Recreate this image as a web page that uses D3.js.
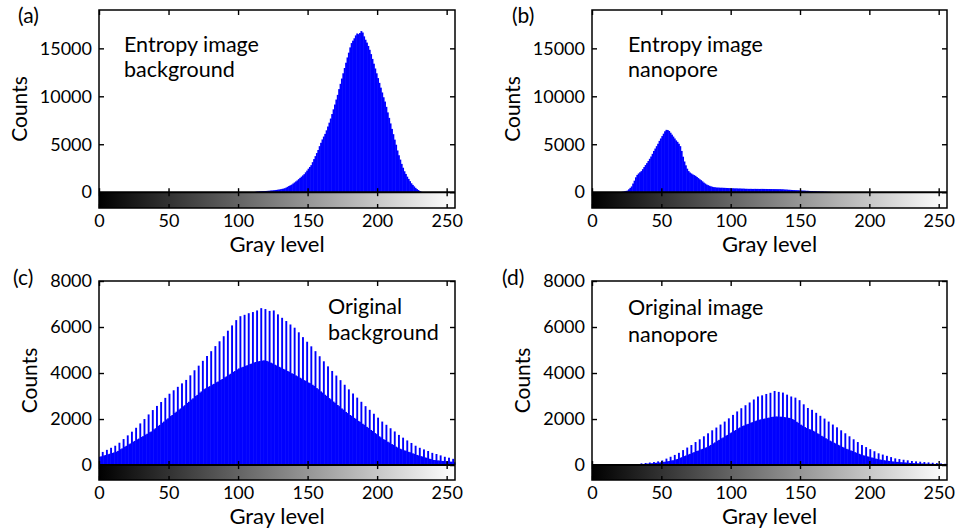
<!DOCTYPE html>
<html><head><meta charset="utf-8">
<script src="https://cdn.jsdelivr.net/npm/d3@7/dist/d3.min.js"></script>
<style>
body{margin:0;background:#fff;}
svg{display:block;font-family:Lato,"Open Sans",sans-serif;}
</style></head><body>
<svg id="chart" width="959" height="529"></svg>
<script>
// ---------- DATA ----------
const grayLevels = d3.range(0, 256);
const xTicks = [0, 50, 100, 150, 200, 250];
const entropyTicks = [0, 5000, 10000, 15000];
const originalTicks = [0, 2000, 4000, 6000, 8000];

// (a) Entropy image background — counts per gray level 0..255
const entropyBackground = [
0,0,0,0,0,0,0,0,0,0,0,0,0,0,0,0,
0,0,0,0,0,0,0,0,0,0,0,0,0,0,0,0,
0,0,0,0,0,0,0,0,0,0,0,0,0,0,0,0,
0,0,0,0,0,0,0,0,0,0,0,0,0,0,0,0,
0,0,0,0,0,0,0,0,0,0,0,0,0,0,0,0,
0,0,0,0,0,0,0,0,0,0,0,0,0,0,0,0,
0,0,0,0,0,0,0,0,0,0,0,0,0,0,0,0,
40,60,75,85,95,105,110,120,130,140,155,170,185,200,215,235,
255,280,310,340,375,410,480,560,640,720,790,900,1010,1120,1230,1360,
1490,1620,1750,1880,2070,2250,2450,2630,2820,3130,3450,3760,4080,4400,4800,5150,
5500,5800,6080,6450,6850,7250,7680,8150,8640,9140,9660,10150,10750,11300,11850,12400,
12950,13500,14050,14550,15100,15550,15800,16050,16350,16550,16480,16600,16800,16650,16250,15900,
15600,15250,14850,14400,13900,13400,12900,12400,11900,11400,10900,10400,9900,9450,8900,8320,
7750,7170,6600,6050,5480,4950,4350,3850,3400,2950,2550,2180,1900,1620,1380,1150,
930,760,600,450,320,220,120,50,0,0,0,0,0,0,0,0,
0,0,0,0,0,0,0,0,0,0,0,0,0,0,0,0
];

// (b) Entropy image nanopore
const entropyNanopore = [
0,0,0,0,0,0,0,0,0,0,0,0,0,0,0,0,
0,0,0,0,0,30,60,90,130,170,300,450,600,900,1200,1550,
1800,1950,2080,2200,2400,2620,2830,3030,3250,3480,3720,4000,4300,4550,4800,5050,
5350,5600,5850,6100,6350,6500,6480,6380,6200,6000,5800,5600,5400,5250,5050,4800,
4300,3700,3200,2800,2450,2200,2050,1950,1850,1780,1700,1580,1470,1350,1250,1130,
1000,900,800,730,670,610,570,530,510,490,480,470,465,460,455,450,
440,435,425,420,410,405,400,395,390,385,380,375,370,365,355,350,
345,345,345,340,340,345,340,340,335,340,340,340,335,335,330,330,
325,325,320,320,315,315,310,310,305,295,285,275,265,255,245,235,
225,215,210,205,200,190,180,170,165,155,145,140,130,120,115,105,
100,95,88,80,74,68,62,56,50,45,40,35,30,22,15,8,
3,0,0,0,0,0,0,0,0,0,0,0,0,0,0,0,
0,0,0,0,0,0,0,0,0,0,0,0,0,0,0,0,
0,0,0,0,0,0,0,0,0,0,0,0,0,0,0,0,
0,0,0,0,0,0,0,0,0,0,0,0,0,0,0,0,
0,0,0,0,0,0,0,0,0,0,0,0,0,0,0,0
];

// (c) Original background
const originalBackground = [
360,380,570,415,435,660,470,490,750,525,545,840,580,615,970,690,
725,1130,795,835,1290,905,940,1450,1015,1050,1620,1120,1150,1810,1220,1255,
2000,1325,1360,2200,1430,1460,2390,1555,1600,2570,1700,1745,2740,1840,1890,2920,
1985,2030,3100,2130,2175,3250,2270,2320,3400,2415,2460,3550,2555,2600,3700,2700,
2750,3900,2850,2900,4120,3000,3050,4320,3150,3200,4530,3300,3335,4740,3400,3430,
4950,3500,3530,5170,3600,3630,5380,3700,3740,5600,3815,3855,5840,3930,3970,6070,
4050,4085,6300,4160,4200,6470,4245,4270,6530,4315,4340,6600,4390,4410,6650,4460,
4480,6720,4510,4520,6820,4540,4550,6780,4530,4500,6700,4450,4420,6720,4360,4330,
6550,4270,4240,6400,4180,4150,6260,4090,4055,6110,3990,3960,5970,3895,3860,5770,
3795,3760,5560,3690,3660,5360,3590,3560,5160,3490,3440,4950,3345,3295,4730,3200,
3150,4510,3055,3005,4290,2910,2860,4090,2760,2710,3890,2610,2560,3690,2460,2410,
3490,2310,2260,3290,2175,2135,3110,2050,2005,2930,1920,1880,2750,1795,1750,2560,
1660,1615,2400,1525,1480,2230,1390,1345,2060,1250,1205,1890,1125,1090,1750,1015,
980,1600,910,875,1460,800,765,1310,710,685,1190,640,620,1070,575,555,
960,510,485,840,440,420,750,385,370,680,330,315,610,275,260,530,
220,215,480,200,195,420,180,175,360,165,160,320,150,145,270,120
];

// (d) Original nanopore
const originalNanopore = [
0,0,0,0,0,0,0,0,0,0,0,0,0,0,0,0,
0,0,0,0,0,0,0,0,0,0,0,0,0,0,15,20,
45,30,35,75,45,50,90,60,65,110,75,80,130,95,100,160,
110,116,200,135,145,280,165,175,360,200,210,440,245,265,530,315,
340,650,390,415,760,460,485,870,535,560,1000,610,630,1120,680,705,
1250,750,775,1380,835,875,1510,945,985,1630,1055,1095,1760,1165,1200,1890,
1275,1310,2030,1385,1420,2180,1490,1525,2330,1600,1635,2470,1695,1720,2600,1770,
1790,2720,1840,1865,2850,1910,1935,2980,1970,1985,3030,2010,2020,3090,2050,2060,
3140,2090,2100,3220,2110,2110,3180,2100,2100,3150,2085,2075,3060,2055,2045,2980,
2000,1960,2930,1880,1835,2820,1755,1715,2640,1650,1610,2480,1560,1545,2400,1490,
1455,2270,1380,1345,2140,1270,1235,2020,1165,1125,1890,1060,1030,1760,970,940,
1640,880,850,1510,790,760,1380,705,680,1250,635,610,1120,560,535,1000,
490,465,870,425,410,780,380,360,690,330,315,600,280,265,510,240,
230,455,210,200,400,185,175,345,160,150,290,140,135,260,125,120,
230,110,105,205,95,90,175,85,80,160,75,72,145,68,65,130,
60,58,116,55,52,100,48,45,85,40,38,70,32,30,55,25
];

const panelTags = ['(a)', '(b)', '(c)', '(d)'];
const panelNotes = [['Entropy image', 'background'], ['Entropy image', 'nanopore'], ['Original', 'background'], ['Original image', 'nanopore']];
const xLabel = 'Gray level';
const yLabel = 'Counts';

// ---------- LAYOUT ----------
const layout = [
  {data: entropyBackground, ticks: entropyTicks, yDomain: [-1650, 19000], left: 99, right: 455, top: 10, bottom: 208, tagX: 18, tagY: 23, noteX: 124, noteY: [52, 77]},
  {data: entropyNanopore, ticks: entropyTicks, yDomain: [-1650, 19000], left: 592, right: 947, top: 10, bottom: 208, tagX: 512, tagY: 23, noteX: 628, noteY: [52, 77]},
  {data: originalBackground, ticks: originalTicks, yDomain: [-650, 8000], left: 99, right: 455, top: 281, bottom: 480, tagX: 13, tagY: 285, noteX: 328, noteY: [314, 340]},
  {data: originalNanopore, ticks: originalTicks, yDomain: [-650, 8000], left: 592, right: 947, top: 281, bottom: 480, tagX: 502, tagY: 285, noteX: 628, noteY: [315, 342]}
];
const FONT = 'Lato, "Open Sans", sans-serif';

const svg = d3.select('#chart');
const defs = svg.append('defs');
const grad = defs.append('linearGradient').attr('id', 'grayGrad').attr('x1', 0).attr('x2', 1).attr('y1', 0).attr('y2', 0);
grad.append('stop').attr('offset', '0%').attr('stop-color', '#000');
grad.append('stop').attr('offset', '100%').attr('stop-color', '#fff');

function styleAxis(g, size) {
  g.select('.domain').remove();
  g.selectAll('line').attr('stroke', '#000').attr('stroke-width', 1.4);
  g.selectAll('text').attr('fill', '#000').style('font-size', size + 'px').style('font-family', FONT);
  g.attr('font-size', null).attr('font-family', null);
}

layout.forEach((p, i) => {
  const x = d3.scaleLinear().domain([0, 256]).range([p.left, p.right]);
  const y = d3.scaleLinear().domain(p.yDomain).range([p.bottom, p.top]);
  const g = svg.append('g');
  const y0 = y(0);

  // gray-level colour bar
  g.append('rect').attr('x', p.left).attr('y', y0).attr('width', p.right - p.left).attr('height', p.bottom - y0)
    .attr('fill', 'url(#grayGrad)');

  // histogram bars
  g.append('g').selectAll('rect').data(grayLevels.filter(k => p.data[k] > 0)).join('rect')
    .attr('x', k => x(k))
    .attr('width', k => x(k + 1) - x(k) + 0.5)
    .attr('y', k => y(p.data[k]))
    .attr('height', k => y0 - y(p.data[k]))
    .attr('fill', '#0000ff');

  // zero line
  g.append('line').attr('x1', p.left).attr('x2', p.right).attr('y1', y0).attr('y2', y0)
    .attr('stroke', '#000').attr('stroke-width', 2);

  const fmt = d3.format('d');
  // axes
  const gl = g.append('g').attr('transform', `translate(${p.left},0)`)
    .call(d3.axisLeft(y).tickValues(p.ticks).tickFormat(fmt).tickSizeInner(-5).tickSizeOuter(0).tickPadding(7));
  styleAxis(gl, 18);
  const gr = g.append('g').attr('transform', `translate(${p.right},0)`)
    .call(d3.axisRight(y).tickValues(p.ticks).tickSizeInner(-5).tickSizeOuter(0).tickFormat(''));
  styleAxis(gr, 18);
  const gt = g.append('g').attr('transform', `translate(0,${p.top})`)
    .call(d3.axisTop(x).tickValues(xTicks).tickSizeInner(-5).tickSizeOuter(0).tickFormat(''));
  styleAxis(gt, 18);
  const gz1 = g.append('g').attr('transform', `translate(0,${y0})`)
    .call(d3.axisBottom(x).tickValues(xTicks).tickSizeInner(-4).tickSizeOuter(0).tickFormat(''));
  styleAxis(gz1, 18);
  const gz2 = g.append('g').attr('transform', `translate(0,${y0})`)
    .call(d3.axisTop(x).tickValues(xTicks).tickSizeInner(-4).tickSizeOuter(0).tickFormat(''));
  styleAxis(gz2, 18);
  const gb = g.append('g').attr('transform', `translate(0,${p.bottom})`)
    .call(d3.axisBottom(x).tickValues(xTicks).tickFormat(fmt).tickSizeInner(-4).tickSizeOuter(0).tickPadding(6.5));
  styleAxis(gb, 18);

  // box
  g.append('rect').attr('x', p.left).attr('y', p.top).attr('width', p.right - p.left).attr('height', p.bottom - p.top)
    .attr('fill', 'none').attr('stroke', '#000').attr('stroke-width', 1.5);

  // axis titles
  g.append('text').attr('x', (p.left + p.right) / 2).attr('y', p.bottom + 43.5)
    .attr('text-anchor', 'middle').style('font-size', '22px').style('font-family', FONT).attr('fill', '#000').text(xLabel);
  const bb = gl.node().getBBox();
  const labelsLeft = p.left + bb.x;
  g.append('text').attr('transform', `translate(${labelsLeft - 13},${(p.top + p.bottom) / 2}) rotate(-90)`)
    .attr('text-anchor', 'middle').style('font-size', '21px').style('font-family', FONT).attr('fill', '#000').text(yLabel);

  // panel tag
  g.append('text').attr('x', p.tagX).attr('y', p.tagY).style('font-size', '21px').style('font-family', FONT).attr('fill', '#000').text(panelTags[i]);

  // note
  panelNotes[i].forEach((line, j) => {
    g.append('text').attr('x', p.noteX).attr('y', p.noteY[j]).style('font-size', '21.5px').style('font-family', FONT).attr('fill', '#000').text(line);
  });
});
</script>
</body></html>
